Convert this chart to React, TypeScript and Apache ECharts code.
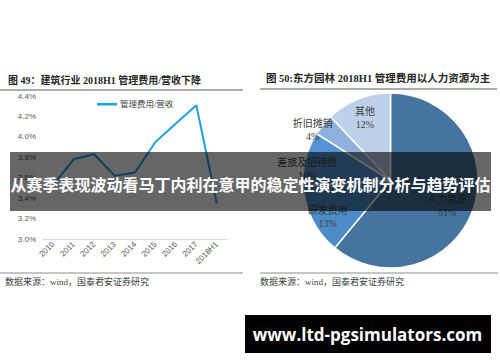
import React, { useEffect, useRef } from "react";
import * as echarts from "echarts";

const YEARS = ["2010", "2011", "2012", "2013", "2014", "2015", "2016", "2017", "2018H1"];
const RATIO = [3.53, 3.78, 3.83, 3.62, 3.65, 3.95, 4.13, 4.31, 3.35];
const SERIES_NAME = "管理费用/营收";

const PIE_NAMES = ["人力资源", "研发费用", "差旅及招待费", "折旧摊销", "其他"];
const PIE_VALUES = [61, 13, 10, 4, 12];
const PIE_COLORS = ["#44749f", "#4d8cc7", "#5593d2", "#8fb1dc", "#bdd0ea"];

const LEFT_TITLE = "图 49：建筑行业 2018H1 管理费用/营收下降";
const RIGHT_TITLE = "图 50:东方园林 2018H1 管理费用以人力资源为主";
const SOURCE = "数据来源：wind，国泰君安证券研究";
const BANNER = "从赛季表现波动看马丁内利在意甲的稳定性演变机制分析与趋势评估";
const WATERMARK = "www.ltd-pgsimulators.com";

// label placement (radius factor, angle shift in degrees)
const LABEL_RADIUS = [0.71, 0.83, 0.96, 1.06, 0.77];
const LABEL_TURN = [4.5, -3.3, -6.5, -6.7, -0.6];

const PIE_CENTER = [390.5, 180.5];
const PIE_R = 87.5;

const SERIF = "'Liberation Serif', 'Noto Sans CJK SC', serif";
const SANS = "'Liberation Sans', 'Noto Sans CJK SC', sans-serif";

export default function App() {
  const ref = useRef<HTMLDivElement>(null);
  useEffect(() => {
    if (!ref.current) return;
    const chart = echarts.init(ref.current, undefined, { renderer: "svg" });
    const total = PIE_VALUES.reduce((a, b) => a + b, 0);
    const option: any = {
      animation: false,
      backgroundColor: "#ffffff",
      legend: {
        data: [SERIES_NAME],
        left: 92,
        top: 95,
        icon: "rect",
        itemWidth: 20,
        itemHeight: 2.5,
        itemGap: 4,
        textStyle: { fontSize: 8.5, color: "#404040", fontFamily: SERIF, padding: [0, 0, 0, -2] },
      },
      grid: { left: 43, top: 96, width: 184, height: 143, containLabel: false },
      xAxis: {
        type: "category",
        data: YEARS,
        boundaryGap: true,
        axisLine: { lineStyle: { color: "#d9d9d9", width: 1 } },
        axisTick: { show: false },
        axisLabel: { rotate: 45, fontSize: 8, color: "#595959", margin: 4, fontFamily: SANS, interval: 0 },
      },
      yAxis: {
        type: "value",
        min: 3.0,
        max: 4.4,
        interval: 0.2,
        axisLine: { show: false },
        axisTick: { show: false },
        splitLine: { show: false },
        axisLabel: {
          fontSize: 8,
          color: "#595959",
          margin: 7,
          fontFamily: SANS,
          formatter: (v: number) => v.toFixed(1) + "%",
        },
      },
      series: [
        {
          name: SERIES_NAME,
          type: "line",
          data: RATIO,
          symbol: "none",
          lineStyle: { color: "#1fa2e3", width: 2 },
          itemStyle: { color: "#1fa2e3" },
          z: 3,
        },
        {
          type: "pie",
          center: PIE_CENTER,
          radius: PIE_R,
          startAngle: 90,
          clockwise: true,
          data: PIE_NAMES.map((n, i) => ({ name: n, value: PIE_VALUES[i], itemStyle: { color: PIE_COLORS[i] } })),
          itemStyle: { borderColor: "#ffffff", borderWidth: 1.5 },
          label: {
            show: true,
            position: "inside",
            formatter: (p: any) => `${p.name}\n${p.value}%`,
            fontSize: 10,
            lineHeight: 13,
            color: "#404040",
            fontFamily: SERIF,
            align: "center",
          },
          labelLine: { show: false },
          labelLayout: (p: any) => {
            const i = p.dataIndex;
            let before = 0;
            for (let k = 0; k < i; k++) before += PIE_VALUES[k];
            const mid = ((before + PIE_VALUES[i] / 2) / total) * 360 + LABEL_TURN[i];
            const a = (mid * Math.PI) / 180;
            const r = PIE_R * LABEL_RADIUS[i];
            return {
              x: PIE_CENTER[0] + r * Math.sin(a),
              y: PIE_CENTER[1] - r * Math.cos(a),
              align: "center",
              verticalAlign: "middle",
            };
          },
          emphasis: { disabled: true },
          z: 2,
        },
      ],
      graphic: [
        { type: "text", x: 8, y: 80, style: { text: LEFT_TITLE, fontSize: 10, fontWeight: "bold", fontFamily: SERIF, fill: "#262626", verticalAlign: "middle" } },
        { type: "line", shape: { x1: 0, y1: 90, x2: 243, y2: 90 }, style: { stroke: "#5a5a5a", lineWidth: 1 } },
        { type: "text", x: 266, y: 78, style: { text: RIGHT_TITLE, fontSize: 10.5, fontWeight: "bold", fontFamily: SERIF, fill: "#262626", verticalAlign: "middle" } },
        { type: "line", shape: { x1: 260, y1: 89, x2: 497, y2: 89 }, style: { stroke: "#5a5a5a", lineWidth: 1 } },
        { type: "line", shape: { x1: 0, y1: 273, x2: 243, y2: 273 }, style: { stroke: "#8c8c8c", lineWidth: 1 } },
        { type: "line", shape: { x1: 260, y1: 273, x2: 498, y2: 273 }, style: { stroke: "#8c8c8c", lineWidth: 1 } },
        { type: "text", x: 5, y: 282, style: { text: SOURCE, fontSize: 9, fontFamily: SERIF, fill: "#404040", verticalAlign: "middle" } },
        { type: "text", x: 260, y: 282, style: { text: SOURCE, fontSize: 9, fontFamily: SERIF, fill: "#404040", verticalAlign: "middle" } },
        { type: "rect", z: 100, shape: { x: 10, y: 152, width: 481, height: 59 }, style: { fill: "rgba(0,0,0,0.6)" } },
        { type: "text", z: 101, x: 250.5, y: 183.5, style: { text: BANNER, fontSize: 16, fontWeight: "bold", fontFamily: "'Noto Sans CJK SC', sans-serif", fill: "#ffffff", align: "center", verticalAlign: "middle" } },
        { type: "rect", z: 100, shape: { x: 245, y: 315, width: 246, height: 38 }, style: { fill: "#000000" } },
        { type: "text", z: 101, x: 367.5, y: 334.5, style: { text: WATERMARK, fontSize: 17, fontWeight: "bold", fontFamily: "'Open Sans', sans-serif", fill: "#ffffff", align: "center", verticalAlign: "middle" } },
      ],
    };
    chart.setOption(option);
    return () => chart.dispose();
  }, []);
  return (
    <div style={{ position: "absolute", left: 0, top: 0, width: 500, height: 362, background: "#fff" }}>
      <div ref={ref} style={{ width: 500, height: 362 }} />
    </div>
  );
}
